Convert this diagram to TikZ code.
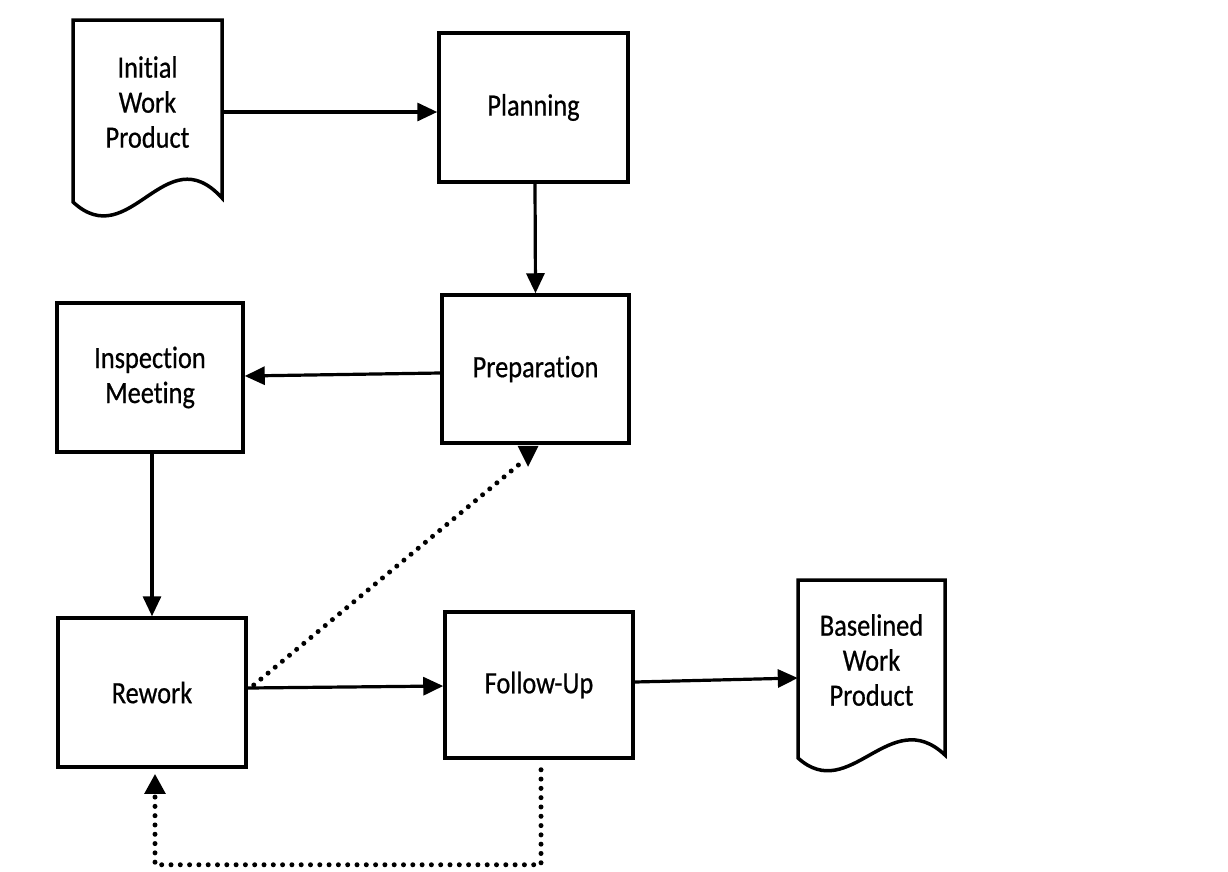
\documentclass[tikz,border=0pt]{standalone}
\usepackage{fontspec}
\setmainfont[FakeStretch=0.85,FakeBold=0.6,Ligatures=NoCommon]{Carlito}
\usetikzlibrary{arrows.meta}
\begin{document}
\begin{tikzpicture}[x=1pt,y=-1pt,
  box/.style={draw=black,line width=3.5pt,fill=white,minimum width=#1,minimum height=148pt,inner sep=0pt,align=center,font=\fontsize{31}{35}\selectfont},
  doctext/.style={inner sep=0pt,minimum width=149pt,align=center,font=\fontsize{31}{35}\selectfont},
  docline/.style={draw=black,line width=3.5pt,line join=miter},
  arr/.style={line width=3.2pt,-{Triangle[length=20pt,width=18pt]}},
  dots/.style={line width=5pt,line cap=round,dash pattern=on 0pt off 9.3pt},
  dotarr/.style={dots,-{Triangle[length=20pt,width=20pt]}}]
\useasboundingbox (0,0) rectangle (1228,871);
% document shapes
\draw[docline] (73,20) -- (222,20) -- (222,198) .. controls (165,135) and (130,255) .. (73,202) -- cycle;
\draw[docline] (798,580) -- (945,580) -- (945,755) .. controls (890,703) and (850,805) .. (798,758) -- cycle;
\node[doctext] (init) at (147.5,102) {Initial\\Work\\Product};
\node[doctext,minimum width=147pt] (base) at (871.5,660) {Baselined\\Work\\Product};
% boxes
\node[box=189pt,minimum height=149pt] (plan) at (533.5,107.5) {Planning};
\node[box=187pt] (prep) at (535.5,369) {Preparation};
\node[box=186pt,minimum height=149pt] (im) at (150,377.5) {Inspection\\Meeting};
\node[box=188pt,minimum height=149pt] (rw) at (152,692.5) {Rework};
\node[box=188pt,minimum height=146pt] (fu) at (539,685) {Follow-Up};
% solid connectors
\draw[arr] ([yshift=-10pt]init.east) -- ([yshift=-4.5pt]plan.west);
\draw[arr] ([xshift=1.5pt]plan.south) -- (prep.north);
\draw[arr] ([yshift=-4pt]prep.west) -- ([yshift=1.5pt]im.east);
\draw[arr] (rw.north |- im.south) -- (rw.north);
\draw[arr] ([yshift=4.5pt]rw.east) -- ([yshift=-1pt]fu.west);
\draw[arr] ([yshift=3pt]fu.east) -- ([yshift=-18pt]base.west);
% dotted connectors
\draw[dots] ([xshift=6pt,yshift=7.5pt]rw.east) -- ([xshift=-12pt,yshift=-16pt]prep.south);
\fill ([xshift=-18pt,yshift=-1pt]prep.south) -- ([xshift=3pt,yshift=-1pt]prep.south) -- ([xshift=-7.5pt,yshift=-22pt]prep.south) -- cycle;
\draw[dotarr] ([xshift=2pt,yshift=-10pt]fu.south) -- ++(0,95) -| ([xshift=3pt,yshift=-5pt]rw.south);
\end{tikzpicture}
\end{document}
